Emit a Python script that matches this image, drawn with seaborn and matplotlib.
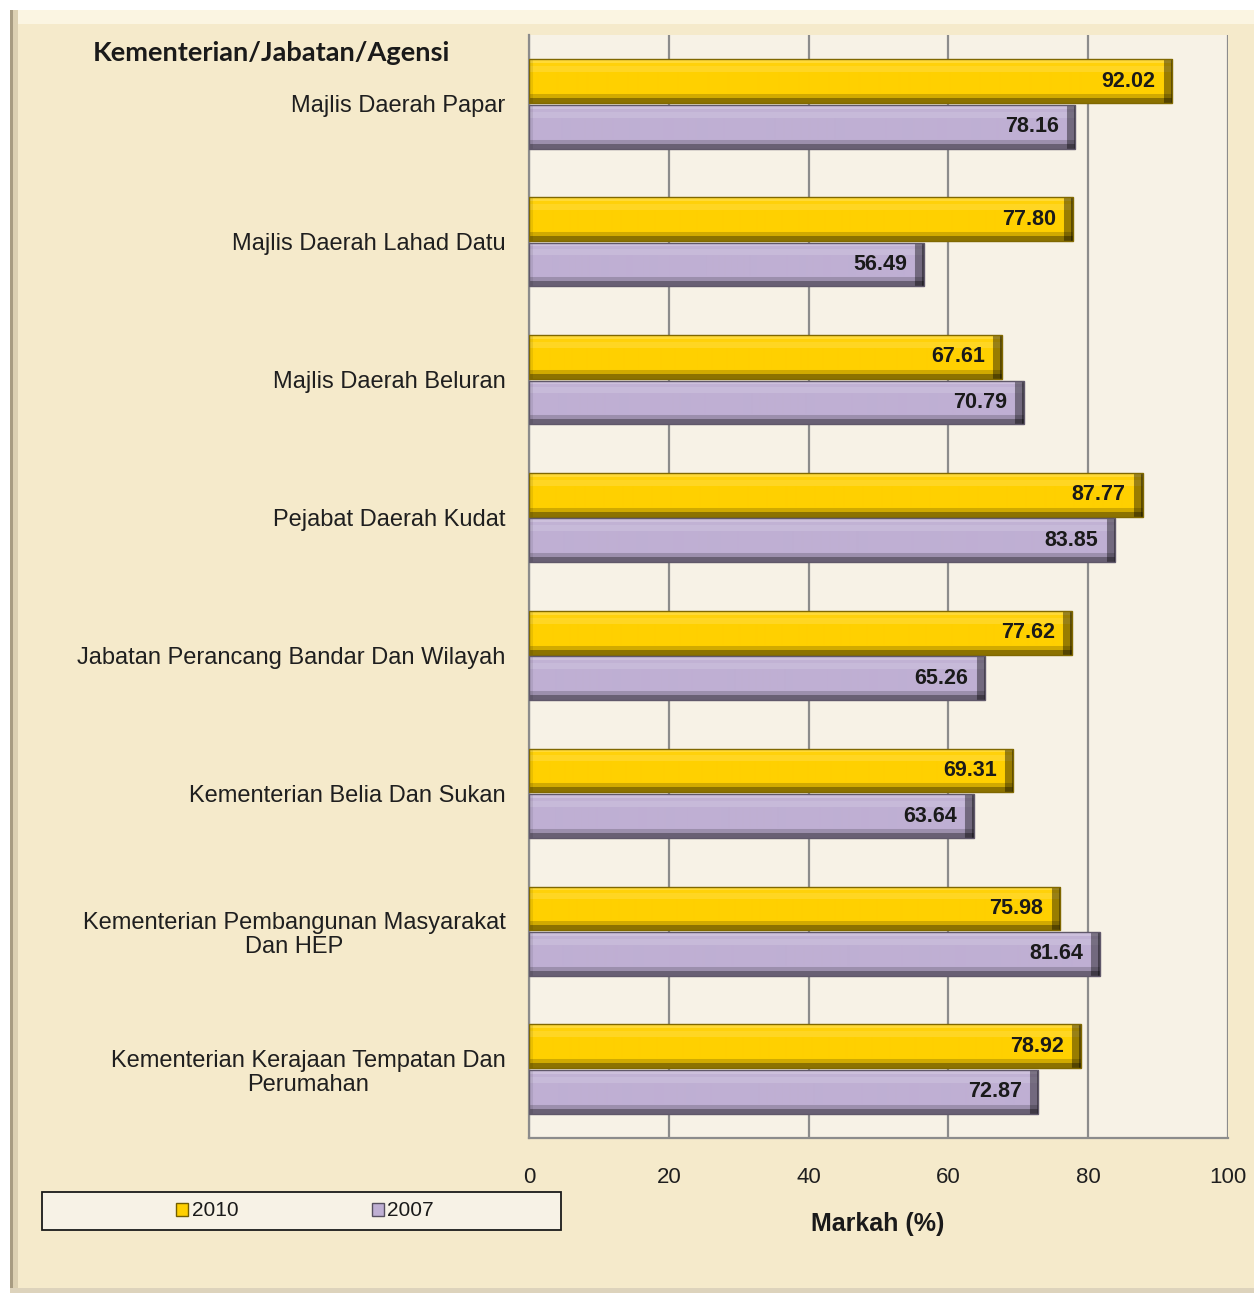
import numpy as np
import pandas as pd
import matplotlib
matplotlib.use("Agg")
import matplotlib.pyplot as plt
import seaborn as sns
from matplotlib.patches import Rectangle
from matplotlib.colors import to_rgb

# ---------------- data ----------------
categories = [
    "Majlis Daerah Papar",
    "Majlis Daerah Lahad Datu",
    "Majlis Daerah Beluran",
    "Pejabat Daerah Kudat",
    "Jabatan Perancang Bandar Dan Wilayah",
    "Kementerian Belia Dan Sukan",
    "Kementerian Pembangunan Masyarakat\nDan HEP",
    "Kementerian Kerajaan Tempatan Dan\nPerumahan",
]
values_2010 = [92.02, 77.80, 67.61, 87.77, 77.62, 69.31, 75.98, 78.92]
values_2007 = [78.16, 56.49, 70.79, 83.85, 65.26, 63.64, 81.64, 72.87]
series_names = ["2010", "2007"]
x_ticks = [0, 20, 40, 60, 80, 100]
header_text = "Kementerian/Jabatan/Agensi"
x_label = "Markah (%)"

df = pd.DataFrame({
    "Agensi": categories * 2,
    "Tahun": [series_names[0]] * len(categories) + [series_names[1]] * len(categories),
    "Markah": values_2010 + values_2007,
})

# ---------------- style ----------------
sns.set_style("white")
plt.rcParams["font.family"] = ["Liberation Sans", "DejaVu Sans"]

W, H = 1254, 1293
fig = plt.figure(figsize=(W / 100, H / 100), dpi=100)
fig.patch.set_facecolor("white")

frame_col = "#F5EACB"
# outer beige frame with bevels
fig.patches.append(Rectangle((10 / W, 0), 1 - 10 / W, 1 - 10 / H, transform=fig.transFigure,
                             facecolor=frame_col, edgecolor="none", zorder=-10))
fig.patches.append(Rectangle((10 / W, 1 - 24 / H), 1 - 10 / W, 14 / H, transform=fig.transFigure,
                             facecolor="#FBF5E2", edgecolor="none", zorder=-9))
fig.patches.append(Rectangle((10 / W, 0), 8 / W, 1 - 10 / H, transform=fig.transFigure,
                             facecolor="#DCD0B2", edgecolor="none", zorder=-8))
fig.patches.append(Rectangle((10 / W, 0), 3 / W, 1 - 10 / H, transform=fig.transFigure,
                             facecolor="#A89C82", edgecolor="none", zorder=-7))
fig.patches.append(Rectangle((10 / W, 0), 1 - 10 / W, 5 / H, transform=fig.transFigure,
                             facecolor="#DDD3BC", edgecolor="none", zorder=-7))

ax = fig.add_axes([529 / W, 1 - 1138 / H, (1228 - 529) / W, (1138 - 35) / H])
ax.set_facecolor("#F7F2E6")

palette = {"2010": "#FFD000", "2007": "#BFAFD3"}
sns.barplot(data=df, y="Agensi", x="Markah", hue="Tahun", hue_order=series_names,
            order=categories, palette=palette, orient="h", width=0.66, gap=0.04,
            ax=ax, legend=False, saturation=1, edgecolor="none", zorder=3)

ax.set_xlim(0, 100)
ax.set_ylim(len(categories) - 0.5, -0.5)


def shade(base, f):
    b = np.array(to_rgb(base))
    if f >= 1:
        return b + (1 - b) * (f - 1)
    return b * f


# bevelled look: gradient image clipped to each bar
px_per_unit = (1228 - 529) / 100.0
for patch in list(ax.patches):
    x0, y0 = patch.get_x(), patch.get_y()
    w, h = patch.get_width(), patch.get_height()
    if w <= 0:
        continue
    base = patch.get_facecolor()[:3]
    nrow = 44
    ncol = max(int(w * px_per_unit), 2)
    t = np.linspace(0, 1, nrow)
    prof = np.ones(nrow)
    prof = np.where(t < 0.08, 1.22, prof)
    prof = np.where((t >= 0.08) & (t < 0.16), 1.04, prof)
    prof = np.where((t >= 0.16) & (t < 0.30), 1.14, prof)
    prof = np.where((t >= 0.80) & (t < 0.90), 0.82, prof)
    prof = np.where(t >= 0.90, 0.55, prof)
    img = np.zeros((nrow, ncol, 3))
    for i in range(nrow):
        img[i, :, :] = shade(base, prof[i])
    # right bevel (darker wedge)
    rb = min(9, ncol)
    img[:, -rb:, :] = img[:, -rb:, :] * 0.6
    img[:, -2:, :] = img[:, -2:, :] * 0.6
    # left bevel
    img[:, :4, :] = np.clip(img[:, :4, :] * 0.92, 0, 1)
    img = np.clip(img, 0, 1)
    im = ax.imshow(img, extent=(x0, x0 + w, y0 + h, y0), aspect="auto",
                   interpolation="bilinear", zorder=4)
    im.set_clip_path(patch)
    patch.set_edgecolor(shade(base, 0.5))
    patch.set_linewidth(1.0)
    patch.set_zorder(4.5)
    patch.set_facecolor("none")

# value labels (right-aligned just inside bar end)
for cont in ax.containers:
    ax.bar_label(cont, labels=[f"{v:.2f}" for v in cont.datavalues], padding=-12,
                 fontsize=15.5, fontweight="bold", color="#1a1a1a", zorder=6)
for txt in ax.texts:
    txt.set_ha("right")

ax.set_xticks(x_ticks)
ax.xaxis.grid(True, color="#8C8C8C", linewidth=1.6, zorder=1)
ax.set_axisbelow(True)
ax.set_xlabel("")
ax.set_ylabel("")

ax.tick_params(axis="x", which="major", length=7, width=1.5, color="#8C8C8C",
               direction="out", pad=14, labelsize=16, labelcolor="#1f1f1f")
ax.tick_params(axis="y", which="major", length=0, pad=17, labelsize=17, labelcolor="#1f1f1f")
ax.set_yticks(np.arange(-0.5, len(categories) + 0.5, 1), minor=True)
ax.tick_params(axis="y", which="minor", length=7, width=1.5, color="#8C8C8C", direction="out")
for lbl in ax.get_yticklabels():
    lbl.set_multialignment("center")
    lbl.set_linespacing(1.15)

for s in ["top", "right"]:
    ax.spines[s].set_visible(False)
for s in ["left", "bottom"]:
    ax.spines[s].set_color("#8C8C8C")
    ax.spines[s].set_linewidth(1.6)

# header
fig.text(450 / W, 1 - 53 / H, header_text, ha="right", va="center", fontsize=19.6,
         fontweight="bold", family=["Lato", "DejaVu Sans"], color="#1a1a1a")

# x label
fig.text(878 / W, 1 - 1224 / H, x_label, ha="center", va="center", fontsize=18,
         fontweight="bold", color="#1a1a1a")

# legend box
fig.patches.append(Rectangle((42 / W, 1 - 1230 / H), (561 - 42) / W, (1230 - 1192) / H,
                             transform=fig.transFigure, facecolor="#F7F2E6",
                             edgecolor="#1a1a1a", linewidth=1.3, zorder=1))
handles = [Rectangle((0, 0), 1, 1, facecolor=palette[n], edgecolor=shade(palette[n], 0.45))
           for n in series_names]
leg = fig.legend(handles, series_names, loc="center", bbox_to_anchor=(305 / W, 1 - 1211 / H),
                 ncol=2, frameon=False, fontsize=15, handlelength=0.6, handleheight=0.6,
                 handletextpad=0.15, columnspacing=6.42)
for t in leg.get_texts():
    t.set_color("#1a1a1a")

fig.savefig("out.png", dpi=100, facecolor=fig.get_facecolor())
